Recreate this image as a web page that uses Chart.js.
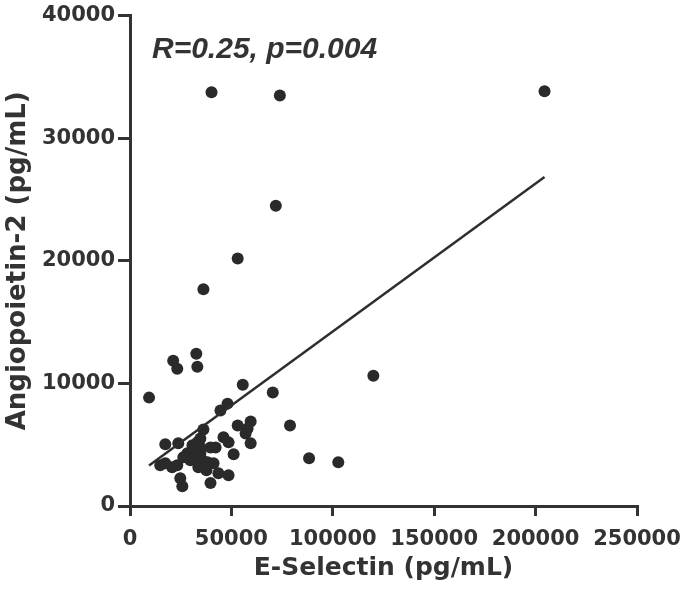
<!DOCTYPE html>
<html>
<head>
<meta charset="utf-8">
<script src="https://cdn.jsdelivr.net/npm/chart.js@4"></script>
<style>
  body { margin: 0; background: #fff; }
  #wrap { width: 685px; height: 593px; }
</style>
</head>
<body>
<div id="wrap"><canvas id="scatter"></canvas></div>
<script>
// E-Selectin (x) vs Angiopoietin-2 (y)
const eSelectin = [
  40200, 73900, 204400, 71900, 53100, 36200, 32700, 33200, 21300, 23300,
  9400, 120000, 55600, 70400, 48100, 44600, 78900, 53100, 59500, 58000,
  57000, 59500, 51100, 88300, 102700, 46100, 48600, 42200, 39700, 36200,
  34700, 38200, 41200, 43600, 48600, 39700, 17400, 23800, 30800, 33200,
  28300, 34700, 32200, 29800, 35700, 33700, 37700, 14900, 17400, 20800,
  23300, 24800, 25800, 26300, 34700
];
const angiopoietin = [
  33740, 33490, 33820, 24490, 20190, 17680, 12410, 11350, 11840, 11190,
  8840, 10620, 9890, 9250, 8350, 7790, 6570, 6570, 6890, 6330,
  5920, 5110, 4220, 3890, 3570, 5600, 5190, 4780, 4780, 6240,
  5510, 3570, 3490, 2680, 2510, 1870, 5030, 5110, 4950, 5190,
  4300, 4300, 4060, 3730, 3730, 3160, 2920, 3330, 3490, 3160,
  3330, 2270, 1620, 3970, 4780
];

// fitted line as drawn in the figure
const fitSlope = 0.1207;
const fitIntercept = 2166;
const statText = "R=0.25, p=0.004";

const xTicks = [0, 50000, 100000, 150000, 200000, 250000];
const yTicks = [0, 10000, 20000, 30000, 40000];

let points = eSelectin.map((x, i) => ({ x: x, y: angiopoietin[i] }));
let xMin = Math.min(...eSelectin);
let xMax = Math.max(...eSelectin);
let fitLine = [xMin, xMax].map(x => ({ x: x, y: fitIntercept + fitSlope * x }));

const ink = '#333333';

const statLabel = {
  id: 'statLabel',
  afterDraw(chart) {
    let ctx = chart.ctx;
    let area = chart.chartArea;
    ctx.save();
    ctx.font = 'italic bold 30px "Liberation Sans", Arial, sans-serif';
    ctx.fillStyle = ink;
    ctx.textBaseline = 'alphabetic';
    ctx.fillText(statText, area.left + 22, area.top + 42);
    ctx.restore();
  }
};

const tickFont = { family: '"DejaVu Sans", sans-serif', size: 21, weight: 'bold' };
const titleFont = { family: '"DejaVu Sans", sans-serif', size: 25, weight: 'bold' };

new Chart(document.getElementById('scatter'), {
  type: 'scatter',
  data: {
    datasets: [
      {
        type: 'line',
        data: fitLine,
        borderColor: '#2e2e2e',
        borderWidth: 2.5,
        pointRadius: 0,
        fill: false
      },
      {
        data: points,
        pointRadius: 6,
        pointBackgroundColor: '#2a2a2a',
        pointBorderWidth: 0
      }
    ]
  },
  options: {
    responsive: true,
    maintainAspectRatio: false,
    animation: false,
    layout: { padding: { top: 13, right: 48, left: 0, bottom: 0 } },
    plugins: { legend: { display: false }, tooltip: { enabled: false } },
    scales: {
      x: {
        type: 'linear',
        min: 0,
        max: 250000,
        afterBuildTicks: s => { s.ticks = xTicks.map(v => ({ value: v })); },
        afterFit: s => { s.height = 87; s.paddingLeft = 0; s.paddingRight = 0; },
        grid: { drawOnChartArea: false, drawTicks: true, tickLength: 10, color: ink, lineWidth: 3 },
        border: { display: true, color: ink, width: 3 },
        ticks: { color: ink, font: tickFont, padding: 11, maxRotation: 0, callback: v => String(v) },
        title: { display: true, text: 'E-Selectin (pg/mL)', color: ink, font: titleFont, padding: { top: 0, bottom: 10 } }
      },
      y: {
        type: 'linear',
        min: 0,
        max: 40000,
        afterBuildTicks: s => { s.ticks = yTicks.map(v => ({ value: v })); },
        afterFit: s => { s.width = 130; },
        grid: { drawOnChartArea: false, drawTicks: true, tickLength: 12, color: ink, lineWidth: 3 },
        border: { display: true, color: ink, width: 3 },
        ticks: { color: ink, font: tickFont, padding: 3, callback: v => String(v) },
        title: { display: true, text: 'Angiopoietin-2 (pg/mL)', color: ink, font: { ...titleFont, size: 26 }, padding: { top: 3, bottom: 0 } }
      }
    }
  },
  plugins: [statLabel]
});
</script>
</body>
</html>
